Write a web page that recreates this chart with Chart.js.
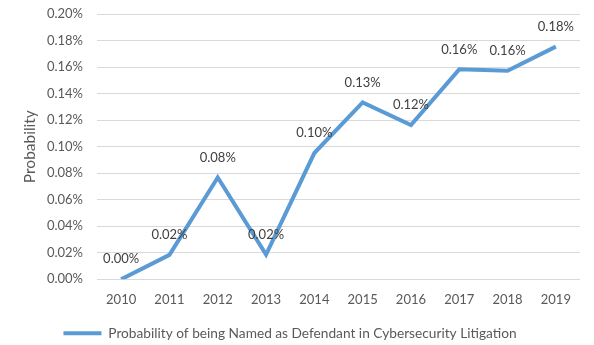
<!DOCTYPE html>
<html>
<head>
<meta charset="utf-8">
<script src="https://cdn.jsdelivr.net/npm/chart.js@4.4.1/dist/chart.umd.min.js"></script>
<style>
  html, body { margin: 0; padding: 0; background: #ffffff; }
  #wrap { width: 594px; height: 345px; }
</style>
</head>
<body>
<div id="wrap"><canvas id="chart" width="594" height="345"></canvas></div>
<script>
// Yearly probability (in percent) of a firm being named as defendant
const years = ['2010', '2011', '2012', '2013', '2014', '2015', '2016', '2017', '2018', '2019'];
const probability = [0.0000, 0.0184, 0.0768, 0.0187, 0.0952, 0.1333, 0.1163, 0.1583, 0.1572, 0.1754];
const seriesName = 'Probability of being Named as Defendant in Cybersecurity Litigation';
const axisTitle = 'Probability';

const fmtPct = v => Number(v).toFixed(2) + '%';

// Value labels drawn just above each point
const pointLabels = {
  id: 'pointLabels',
  afterDatasetsDraw(chart) {
    const ctx = chart.ctx;
    const meta = chart.getDatasetMeta(0);
    const values = chart.data.datasets[0].data;
    ctx.save();
    ctx.font = '13px Lato';
    ctx.fillStyle = '#404040';
    ctx.textAlign = 'center';
    ctx.textBaseline = 'middle';
    meta.data.forEach((pt, i) => {
      ctx.fillText(fmtPct(values[i]), pt.x, pt.y - 20);
    });
    ctx.restore();
  }
};

Chart.defaults.font.family = 'Lato';
Chart.defaults.color = '#595959';

new Chart(document.getElementById('chart'), {
  type: 'line',
  data: {
    labels: years,
    datasets: [{
      label: seriesName,
      data: probability,
      borderColor: '#5B9BD5',
      backgroundColor: '#5B9BD5',
      borderWidth: 4,
      pointRadius: 0,
      pointHoverRadius: 0,
      tension: 0,
      fill: false
    }]
  },
  options: {
    responsive: false,
    animation: false,
    layout: { padding: { top: 14, right: 14, bottom: -5, left: 0 } },
    plugins: {
      tooltip: { enabled: false },
      legend: {
        position: 'bottom',
        labels: {
          usePointStyle: true,
          pointStyle: 'line',
          pointStyleWidth: 38,
          padding: 0,
          color: '#595959',
          font: { size: 13.7 }
        }
      }
    },
    scales: {
      x: {
        type: 'category',
        offset: true,
        grid: { display: false, drawTicks: false },
        border: { display: false },
        ticks: { padding: 13, color: '#595959', font: { size: 13 }, maxRotation: 0 },
        afterFit(scale) { scale.height = 47; }
      },
      y: {
        min: 0,
        max: 0.2,
        grid: { color: '#D9D9D9', lineWidth: 1, drawTicks: false },
        border: { display: false },
        ticks: {
          stepSize: 0.02,
          padding: 14,
          color: '#595959',
          font: { size: 13 },
          callback: v => fmtPct(v)
        },
        title: {
          display: true,
          text: axisTitle,
          color: '#595959',
          font: { size: 15.5 },
          padding: { top: 21, bottom: 0 }
        },
        afterFit(scale) {
          scale.width = 97;
          // the outer layout padding already leaves room for the end labels
          scale.paddingTop = 0;
          scale.paddingBottom = 0;
        }
      }
    }
  },
  plugins: [pointLabels]
});
</script>
</body>
</html>
